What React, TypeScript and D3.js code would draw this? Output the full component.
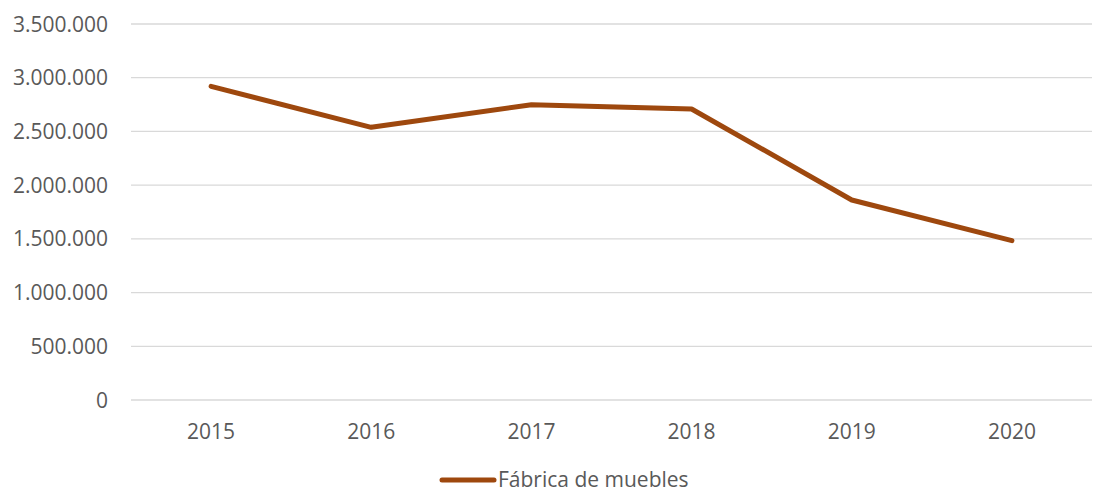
import React, { useEffect, useRef } from 'react';
import * as d3 from 'd3';

const years = ['2015', '2016', '2017', '2018', '2019', '2020'];
const furnitureFactory = [2920000, 2538000, 2749000, 2709000, 1862000, 1483000];
const yTicks = [0, 500000, 1000000, 1500000, 2000000, 2500000, 3000000, 3500000];
const seriesName = 'Fábrica de muebles';

const W = 1095;
const H = 493;
const LINE_COLOR = '#9E480E';
const TEXT_COLOR = '#595959';
const FONT = '"Open Sans", "Liberation Sans", sans-serif';

const App = () => {
  const ref = useRef<SVGSVGElement>(null);

  useEffect(() => {
    const svg = d3.select(ref.current);
    svg.selectAll('*').remove();

    const margin = { left: 131, right: 3, top: 24, bottom: 93 };
    const plotW = W - margin.left - margin.right;
    const plotH = H - margin.top - margin.bottom;

    const g = svg.append('g').attr('transform', `translate(${margin.left}, ${margin.top})`);

    // scales
    const x = d3.scaleBand().domain(years).range([0, plotW]);
    const y = d3.scaleLinear().domain([0, 3500000]).range([plotH, 0]);

    const fmt = (v: number) => d3.format(',')(v).replace(/,/g, '.');

    // gridlines
    g.selectAll('.grid')
      .data(yTicks)
      .enter()
      .append('line')
      .attr('class', 'grid')
      .attr('x1', 0)
      .attr('x2', plotW)
      .attr('y1', d => y(d))
      .attr('y2', d => y(d))
      .attr('stroke', '#D9D9D9')
      .attr('stroke-width', 1.3);

    // y labels
    g.selectAll('.ylab')
      .data(yTicks)
      .enter()
      .append('text')
      .attr('class', 'ylab')
      .attr('x', -23)
      .attr('y', d => y(d) + 7.5)
      .attr('text-anchor', 'end')
      .attr('font-family', FONT)
      .attr('font-size', '21px')
      .attr('fill', TEXT_COLOR)
      .text(d => fmt(d));

    // x labels
    g.selectAll('.xlab')
      .data(years)
      .enter()
      .append('text')
      .attr('class', 'xlab')
      .attr('x', d => (x(d) as number) + x.bandwidth() / 2)
      .attr('y', plotH + 39)
      .attr('text-anchor', 'middle')
      .attr('font-family', FONT)
      .attr('font-size', '21px')
      .attr('fill', TEXT_COLOR)
      .text(d => d);

    // line
    const line = d3.line<number>()
      .x((_, i) => (x(years[i]) as number) + x.bandwidth() / 2)
      .y(d => y(d));

    g.append('path')
      .datum(furnitureFactory)
      .attr('d', line)
      .attr('fill', 'none')
      .attr('stroke', LINE_COLOR)
      .attr('stroke-width', 5)
      .attr('stroke-linejoin', 'round')
      .attr('stroke-linecap', 'round');

    // legend (kept a bit off the bottom edge)
    const legend = svg.append('g').attr('transform', 'translate(440, 480)');
    legend.append('line')
      .attr('x1', 2)
      .attr('x2', 54)
      .attr('y1', 0)
      .attr('y2', 0)
      .attr('stroke', LINE_COLOR)
      .attr('stroke-width', 5)
      .attr('stroke-linecap', 'round');
    legend.append('text')
      .attr('x', 58)
      .attr('y', 6.5)
      .attr('font-family', FONT)
      .attr('font-size', '21px')
      .attr('fill', TEXT_COLOR)
      .text(seriesName);
  }, []);

  return (
    <svg
      ref={ref}
      width={W}
      height={H}
      style={{ position: 'absolute', left: 0, top: 0, background: '#fff' }}
    />
  );
};

export default App;
